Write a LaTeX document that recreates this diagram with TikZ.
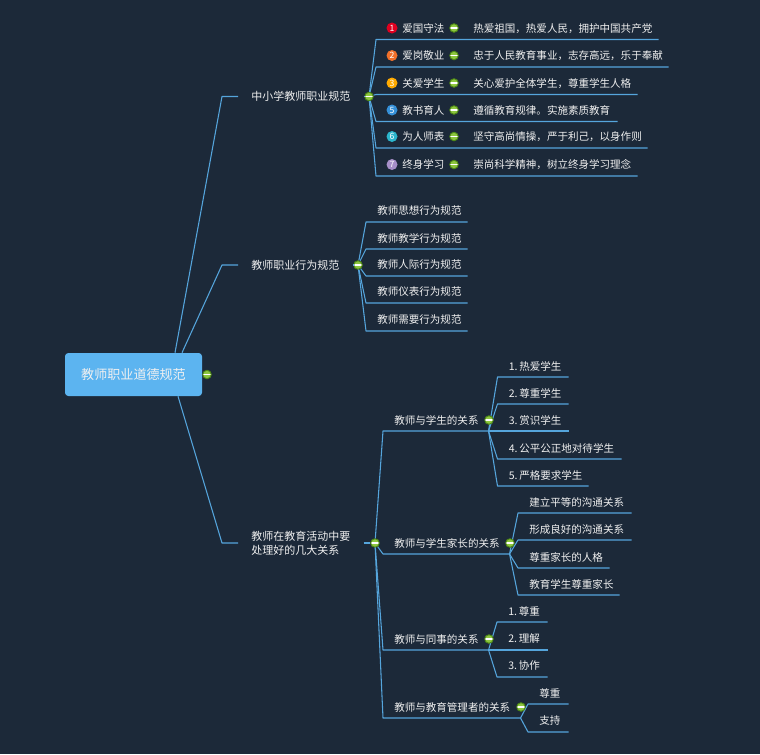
\documentclass[tikz,border=0pt]{standalone}
\usepackage{fontspec}
\setmainfont{Noto Sans CJK SC}
\usetikzlibrary{calc}

\newcommand*{\pxu}{0.75pt}

\definecolor{bgdark}{HTML}{1C2939}
\definecolor{linkblue}{HTML}{55A5DC}
\definecolor{rootblue}{HTML}{5CB4F0}
\definecolor{txtwhite}{HTML}{F0F0F0}
\definecolor{knobgreen}{HTML}{8DC63F}
\definecolor{knobedge}{HTML}{4F8A16}
\definecolor{ired}{HTML}{E0001F}
\definecolor{iorange}{HTML}{F2702A}
\definecolor{iyellow}{HTML}{FFAA00}
\definecolor{iblue}{HTML}{3590D8}
\definecolor{iteal}{HTML}{2BB5CC}
\definecolor{ipurple}{HTML}{A68FC8}

\tikzset{
	link/.style={draw=linkblue,line width=0.8pt,line join=round},
	under/.style={anchor=south west,inner sep=0pt,minimum height=21.5*\pxu,text width=(#1)*\pxu,align=left,text=txtwhite,font=\fontsize{7.9pt}{10pt}\selectfont},
	leaf/.style={under=#1,execute at begin node={\hspace*{8.25pt}}},
	iconleaf/.style={under=#1,execute at begin node={\hspace*{19.5pt}}},
	mainnode/.style={anchor=west,inner xsep=13*\pxu,inner ysep=0pt,align=left,text=txtwhite,font=\fontsize{8.25pt}{10.5pt}\selectfont},
	rootnode/.style={fill=rootblue,rounded corners=2.5pt,minimum width=137*\pxu,minimum height=43*\pxu,inner sep=0pt,text=txtwhite,font=\fontsize{9.8pt}{12pt}\selectfont},
	knob/.style={circle,draw=knobedge,fill=knobgreen,line width=0.7pt,minimum size=8.5*\pxu,inner sep=0pt,
		path picture={\draw[white,line width=1.1pt] (path picture bounding box.west) -- (path picture bounding box.east);}},
	badge/.style={circle,fill=#1,minimum size=11*\pxu,inner sep=0pt,text=white,font=\fontsize{6.5pt}{7pt}\selectfont}
}

\begin{document}
\begin{tikzpicture}[x=0.75pt,y=-0.75pt]

	\fill[bgdark] (0,0) rectangle (760,754);
	\useasboundingbox (0,0) rectangle (760,754);

	\node[rootnode] (root) at (133.5,374.5) {教师职业道德规范};
	\node[knob] (kroot) at (207,374.5) {};

	% first level
	\node[mainnode] (t1) at (238,96.5) {中小学教师职业规范};
	\node[mainnode] (t2) at (238,265) {教师职业行为规范};
	\node[mainnode] (t3) at (238,543) {教师在教育活动中要\\处理好的几大关系};
	\node[knob] (k1) at (369,96.5) {};
	\node[knob] (k2) at (358,265) {};
	\node[knob] (k3) at (375,543) {};

	\draw[link] ($(root.north)+(41.5,0)$) -- ($(t1.west)+(-16,0)$) -- (t1.west);
	\draw[link] ($(root.north)+(48.5,0)$) -- ($(t2.west)+(-16,0)$) -- (t2.west);
	\draw[link] ($(root.south)+(44.5,0)$) -- ($(t3.west)+(-16,0)$) -- (t3.west);
	\draw[link] (t1.east) -- (k1);
	\draw[link] (t2.east) -- (k2);
	\draw[link] (t3.east) -- (k3);

	% norms with badges
	\foreach \n/\yl/\xe/\clr/\num/\lab/\txt in {
		1/39.5/658/ired/1/爱国守法/热爱祖国，热爱人民，拥护中国共产党,
		2/67/668/iorange/2/爱岗敬业/忠于人民教育事业，志存高远，乐于奉献,
		3/94.5/637/iyellow/3/关爱学生/关心爱护全体学生，尊重学生人格,
		4/121.5/617/iblue/5/教书育人/遵循教育规律。实施素质教育,
		5/148/647/iteal/6/为人师表/坚守高尚情操，严于利己，以身作则,
		6/176/637/ipurple/7/终身学习/崇尚科学精神，树立终身学习理念} {
		\node[iconleaf=77] (p\n) at (376,\yl) {\lab};
		\node[leaf={\xe-462}] (d\n) at (462,\yl) {\txt};
		\node[badge=\clr] (i\n) at (392,\yl-11.5) {\num};
		\draw[link] (k1) -- (p\n.south west) -- (p\n.south east) -- (d\n.south west) -- (d\n.south east);
		\node[knob] (m\n) at (454,\yl-11.5) {};
	}

	% behaviour norms
	\foreach \n/\yl/\txt in {
		1/222/教师思想行为规范,
		2/249/教师教学行为规范,
		3/276/教师人际行为规范,
		4/303/教师仪表行为规范,
		5/331/教师需要行为规范} {
		\node[leaf=101] (b\n) at (366,\yl) {\txt};
		\draw[link] (k2) -- (b\n.south west) -- (b\n.south east);
	}

	% relations
	\foreach \n/\yl/\xe/\txt in {
		1/431/488/教师与学生的关系,
		2/554/509/教师与学生家长的关系,
		3/650/488/教师与同事的关系,
		4/718/520/教师与教育管理者的关系} {
		\node[leaf={\xe-383}] (s\n) at (383,\yl) {\txt};
		\draw[link] (k3) -- (s\n.south west) -- (s\n.south east);
	}

	\foreach \n/\yl/\xe/\txt in {
		1/377/568/1.\,热爱学生,
		2/404/568/2.\,尊重学生,
		3/431/568/3.\,赏识学生,
		4/459/621/4.\,公平公正地对待学生,
		5/486/588/5.\,严格要求学生} {
		\node[leaf={\xe-497.5}] (sa\n) at (497.5,\yl) {\txt};
		\draw[link] (s1.south east) -- (sa\n.south west) -- (sa\n.south east);
	}

	\foreach \n/\yl/\xe/\txt in {
		1/513/631/建立平等的沟通关系,
		2/540/631/形成良好的沟通关系,
		3/568/609/尊重家长的人格,
		4/595/619/教育学生尊重家长} {
		\node[leaf={\xe-518}] (sb\n) at (518,\yl) {\txt};
		\draw[link] (s2.south east) -- (sb\n.south west) -- (sb\n.south east);
	}

	\foreach \n/\yl/\txt in {
		1/622/1.\,尊重,
		2/650/2.\,理解,
		3/677/3.\,协作} {
		\node[leaf=50] (sc\n) at (497,\yl) {\txt};
		\draw[link] (s3.south east) -- (sc\n.south west) -- (sc\n.south east);
	}

	\foreach \n/\yl/\txt in {
		1/704/尊重,
		2/732/支持} {
		\node[leaf=40] (sd\n) at (528,\yl) {\txt};
		\draw[link] (s4.south east) -- (sd\n.south west) -- (sd\n.south east);
	}

	% knobs on top of the fans
	\node[knob] (ks1) at (489,420) {};
	\node[knob] (ks2) at (510,543) {};
	\node[knob] (ks3) at (489,639) {};
	\node[knob] (ks4) at (521,707) {};

\end{tikzpicture}
\end{document}
